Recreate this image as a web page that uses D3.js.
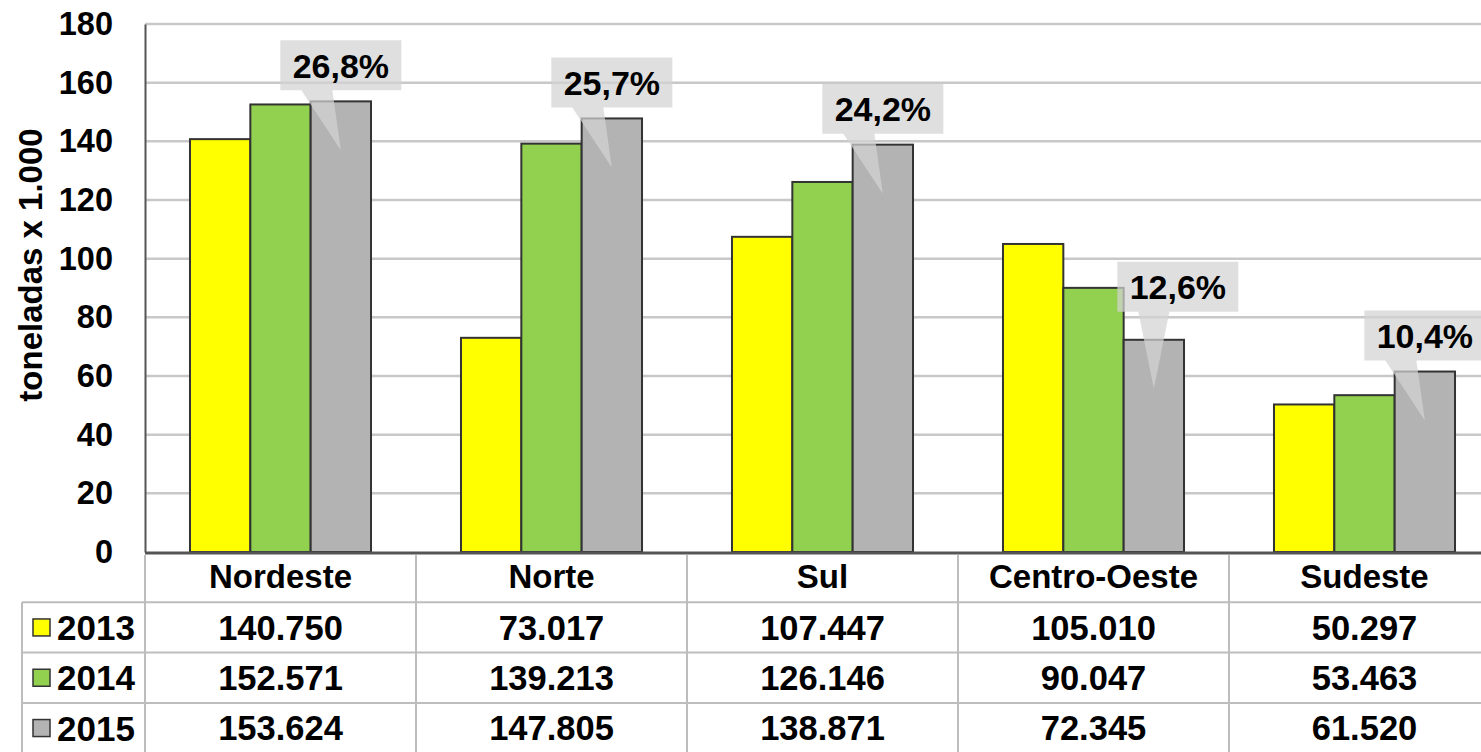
<!DOCTYPE html>
<html>
<head>
<meta charset="utf-8">
<script src="https://cdn.jsdelivr.net/npm/d3@7"></script>
<style>
	html, body { margin: 0; padding: 0; background: #fff; overflow: hidden; }
	text { font-family: "Liberation Sans", Arial, sans-serif; font-weight: bold; fill: #000; }
</style>
</head>
<body>
<div id="chart"></div>
<script>
// Data (toneladas x 1.000)
const categories = ["Nordeste", "Norte", "Sul", "Centro-Oeste", "Sudeste"];
const years = ["2013", "2014", "2015"];
const values2013 = [140.750, 73.017, 107.447, 105.010, 50.297];
const values2014 = [152.571, 139.213, 126.146, 90.047, 53.463];
const values2015 = [153.624, 147.805, 138.871, 72.345, 61.520];
const shareLabels = ["26,8%", "25,7%", "24,2%", "12,6%", "10,4%"];
const yTicks = [0, 20, 40, 60, 80, 100, 120, 140, 160, 180];
const yTitle = "toneladas x 1.000";

const series = [values2013, values2014, values2015];
const COLORS = ["#ffff00", "#92d050", "#b3b3b3"];

const WIDTH = 1481, HEIGHT = 752;
const PLOT_LEFT = 145, PLOT_RIGHT = 1500;	// chart runs past the right edge
const PLOT_TOP = 24, PLOT_BOTTOM = 552;
const ROW_H = 50.3;
const LEGEND_LEFT = 22;
const GRID_COLOR = "#c8c8c8";
const TABLE_LINE = "#bdbdbd";

const svg = d3.select("#chart")
	.append("svg")
	.attr("width", WIDTH)
	.attr("height", HEIGHT);

const x0 = d3.scaleBand()
	.domain(categories)
	.range([PLOT_LEFT, PLOT_RIGHT])
	.paddingInner(0.332)
	.paddingOuter(0.166);

const x1 = d3.scaleBand()
	.domain(years)
	.range([0, x0.bandwidth()]);

const xCell = d3.scaleBand()
	.domain(categories)
	.range([PLOT_LEFT, PLOT_RIGHT]);

const y = d3.scaleLinear()
	.domain([0, 180])
	.range([PLOT_BOTTOM, PLOT_TOP]);

// Gridlines
svg.append("g")
	.selectAll("line")
	.data(yTicks.filter(d => d > 0))
	.join("line")
	.attr("x1", PLOT_LEFT)
	.attr("x2", WIDTH)
	.attr("y1", d => y(d))
	.attr("y2", d => y(d))
	.attr("stroke", GRID_COLOR)
	.attr("stroke-width", 2.5);

// Y axis
const yAxis = svg.append("g")
	.attr("transform", `translate(${PLOT_LEFT},0)`)
	.call(d3.axisLeft(y).tickValues(yTicks).tickSize(0).tickPadding(32));
yAxis.select(".domain").attr("stroke", "#555").attr("stroke-width", 2);
yAxis.selectAll("text")
	.attr("font-size", 32.5)
	.attr("font-family", "Liberation Sans, Arial, sans-serif")
	.attr("font-weight", "bold")
	.attr("fill", "#000");

svg.append("text")
	.attr("transform", "translate(42,265) rotate(-90)")
	.attr("text-anchor", "middle")
	.attr("font-size", 33)
	.text(yTitle);

// Bars
const groups = svg.append("g")
	.selectAll("g")
	.data(categories)
	.join("g")
	.attr("transform", d => `translate(${x0(d)},0)`);

groups.selectAll("rect")
	.data((d, i) => years.map((yr, j) => ({ year: yr, value: series[j][i], color: COLORS[j] })))
	.join("rect")
	.attr("x", d => x1(d.year))
	.attr("y", d => y(d.value))
	.attr("width", x1.bandwidth())
	.attr("height", d => y(0) - y(d.value))
	.attr("fill", d => d.color)
	.attr("stroke", "#333")
	.attr("stroke-width", 2);

// X axis line (top of table)
svg.append("line")
	.attr("x1", PLOT_LEFT).attr("x2", WIDTH)
	.attr("y1", PLOT_BOTTOM + 1).attr("y2", PLOT_BOTTOM + 1)
	.attr("stroke", "#555").attr("stroke-width", 3);

// Callouts on 2015 bars
const BOX_W = 121, BOX_H = 50;
const nudge = { "Centro-Oeste": { dx: 24, dy: -17 } };	// moved off the green bar

categories.forEach(function(cat, i) {
	const v = values2015[i];
	const cx = x0(cat) + x1("2015") + x1.bandwidth() / 2;
	const top = y(v);
	const n = nudge[cat] || { dx: 0, dy: 0 };
	const bx = cx - BOX_W / 2 + n.dx;
	const by = top - 11 - BOX_H + n.dy;
	const tipY = top + 49;

	const p = d3.path();
	p.moveTo(bx, by);
	p.lineTo(bx + BOX_W, by);
	p.lineTo(bx + BOX_W, by + BOX_H);
	p.lineTo(bx + 52, by + BOX_H);
	p.lineTo(cx, tipY);
	p.lineTo(bx + 21, by + BOX_H);
	p.lineTo(bx, by + BOX_H);
	p.closePath();

	svg.append("path")
		.attr("d", p.toString())
		.attr("fill", "rgb(210,210,210)")
		.attr("fill-opacity", 0.72);

	svg.append("text")
		.attr("x", bx + BOX_W / 2)
		.attr("y", by + BOX_H / 2)
		.attr("dy", "0.36em")
		.attr("text-anchor", "middle")
		.attr("font-size", 34)
		.text(shareLabels[i]);
});

// Data table
const ptBR = d3.formatLocale({ decimal: ",", thousands: ".", grouping: [3], currency: ["R$", ""] });
const fmt = ptBR.format(",.0f");

const table = svg.append("g");
const rowTop = j => PLOT_BOTTOM + ROW_H * (j + 1);

// horizontal lines
years.forEach(function(yr, j) {
	table.append("line")
		.attr("x1", LEGEND_LEFT).attr("x2", WIDTH)
		.attr("y1", rowTop(j)).attr("y2", rowTop(j))
		.attr("stroke", TABLE_LINE).attr("stroke-width", 2);
});
// vertical lines
table.append("line")
	.attr("x1", LEGEND_LEFT).attr("x2", LEGEND_LEFT)
	.attr("y1", rowTop(0)).attr("y2", HEIGHT)
	.attr("stroke", TABLE_LINE).attr("stroke-width", 2);
categories.forEach(function(cat) {
	table.append("line")
		.attr("x1", xCell(cat)).attr("x2", xCell(cat))
		.attr("y1", PLOT_BOTTOM + 3).attr("y2", HEIGHT)
		.attr("stroke", TABLE_LINE).attr("stroke-width", 2);
});

// header row
table.selectAll(".head")
	.data(categories)
	.join("text")
	.attr("class", "head")
	.attr("x", d => xCell(d) + xCell.bandwidth() / 2)
	.attr("y", PLOT_BOTTOM + ROW_H / 2 - 1)
	.attr("dy", "0.36em")
	.attr("text-anchor", "middle")
	.attr("font-size", 33)
	.text(d => d);

// value rows + legend keys
years.forEach(function(yr, j) {
	const cy = rowTop(j) + ROW_H / 2;
	table.append("rect")
		.attr("x", 33).attr("y", cy - 8.5)
		.attr("width", 17).attr("height", 17)
		.attr("fill", COLORS[j])
		.attr("stroke", "#333").attr("stroke-width", 1.5);
	table.append("text")
		.attr("x", 57).attr("y", cy)
		.attr("dy", "0.36em")
		.attr("font-size", 35)
		.text(yr);
	table.selectAll(".v" + yr)
		.data(categories)
		.join("text")
		.attr("x", d => xCell(d) + xCell.bandwidth() / 2)
		.attr("y", cy)
		.attr("dy", "0.36em")
		.attr("text-anchor", "middle")
		.attr("font-size", 34.5)
		.text((d, i) => fmt(series[j][i] * 1000));
});
</script>
</body>
</html>
